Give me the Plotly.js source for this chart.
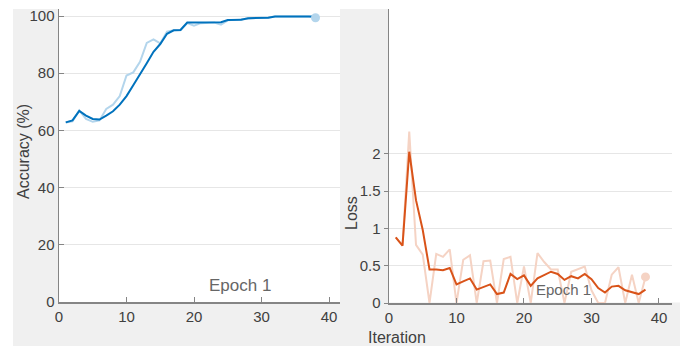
<!DOCTYPE html>
<html>
<head>
<meta charset="utf-8">
<script src="https://cdn.plot.ly/plotly-3.0.1.min.js"></script>
<style>html,body{margin:0;padding:0;background:#ffffff;}#chart{width:680px;height:346px;}</style>
</head>
<body>
<div id="chart"></div>
<script>
const iterations = [1,2,3,4,5,6,7,8,9,10,11,12,13,14,15,16,17,18,19,20,21,22,23,24,25,26,27,28,29,30,31,32,33,34,35,36,37,38];
const accuracySmoothed = [62.8,63.5,66.8,65.2,64.0,63.8,65.2,66.7,69.0,72.0,75.8,79.5,83.5,87.5,90.2,93.8,95.0,95.1,97.7,97.7,97.7,97.7,97.7,97.8,98.6,98.7,98.7,99.2,99.3,99.4,99.4,99.8,99.8,99.8,99.8,99.8,99.8,99.8];
const accuracyRaw = [62.8,63.2,67.0,64.0,63.0,63.5,67.5,69.0,72.0,79.2,80.3,84.0,90.6,91.8,90.4,94.5,95.0,95.0,97.5,96.6,97.5,97.7,97.7,97.0,98.5,98.7,98.9,99.2,99.4,99.5,99.5,99.8,99.8,99.8,99.8,99.8,99.8,99.4];
const lossSmoothed = [0.88,0.77,2.03,1.38,0.98,0.45,0.45,0.44,0.47,0.25,0.29,0.33,0.18,0.21,0.25,0.12,0.14,0.39,0.32,0.37,0.23,0.33,0.37,0.42,0.39,0.31,0.36,0.33,0.39,0.32,0.2,0.14,0.22,0.23,0.17,0.15,0.12,0.18];
const lossRaw = [0.88,0.77,2.30,0.78,0.65,0.0,0.66,0.62,0.72,0.0,0.58,0.64,0.0,0.56,0.57,0.0,0.59,0.62,0.0,0.49,0.0,0.67,0.55,0.45,0.45,0.0,0.42,0.45,0.49,0.17,0.0,0.0,0.38,0.48,0.0,0.38,0.0,0.35];
const accTicks = [0,20,40,60,80,100];
const xTicks = [0,10,20,30,40];
const lossTicks = [0,0.5,1,1.5,2];
const lossTickText = ['0','0.5','1','1.5','2'];
const lossUpperGrid = [2.55,3.09,3.48,3.87];
const epochLabel = 'Epoch 1';

const lastI = iterations.length - 1;
const blue = '#0072BD', lightBlue = '#b3d5ec', orange = '#D95319', lightOrange = '#f5d3c4';

const traces = [
  {x: iterations, y: accuracyRaw, xaxis:'x', yaxis:'y', mode:'lines', line:{color:lightBlue, width:2}},
  {x: iterations, y: accuracySmoothed, xaxis:'x', yaxis:'y', mode:'lines', line:{color:blue, width:2}},
  {x: [iterations[lastI]], y: [accuracyRaw[lastI]], xaxis:'x', yaxis:'y', mode:'markers', marker:{color:lightBlue, size:9}},
  {x: iterations, y: lossRaw, xaxis:'x2', yaxis:'y2', mode:'lines', line:{color:lightOrange, width:2}},
  {x: iterations, y: lossSmoothed, xaxis:'x2', yaxis:'y2', mode:'lines', line:{color:orange, width:2}},
  {x: [iterations[lastI]], y: [lossRaw[lastI]], xaxis:'x2', yaxis:'y2', mode:'markers', marker:{color:lightOrange, size:9}}
];

const W = 680, H = 346;
const gray = '#f0f0f0';
const axisGray = '#858585';
const fontFamily = 'Arial, Liberation Sans, sans-serif';
const tickFont = {family:fontFamily, size:15, color:'#404040'};
const axCommon = {
  showline:true, linecolor:axisGray, linewidth:1.5, ticks:'inside', ticklen:5, tickcolor:axisGray,
  zeroline:false, tickfont:tickFont, fixedrange:true
};
const px = v => v / W;
const py = v => (H - v) / H;

const layout = {
  width: W, height: H,
  margin:{l:0,r:0,t:0,b:0},
  paper_bgcolor:'#ffffff', plot_bgcolor:'#ffffff',
  showlegend:false,
  font:{family:fontFamily},
  xaxis: Object.assign({}, axCommon, {domain:[px(59), px(340)], range:[0, 41.63], tickvals:xTicks, showgrid:false, anchor:'y'}),
  yaxis: Object.assign({}, axCommon, {domain:[py(302), py(9)], range:[0, 102.45], tickvals:accTicks, showgrid:true, gridcolor:'#e6e6e6', anchor:'x'}),
  xaxis2: Object.assign({}, axCommon, {domain:[px(389), px(672)], range:[0, 41.93], tickvals:xTicks, showgrid:false, anchor:'y2'}),
  yaxis2: Object.assign({}, axCommon, {domain:[py(303), py(9)], range:[0, 3.946], tickmode:'array', tickvals:lossTicks, ticktext:lossTickText, ticks:'outside', ticklen:4, showgrid:true, gridcolor:'#e6e6e6', anchor:'x2'}),
  yaxis3: {overlaying:'y2', anchor:'x2', range:[0, 3.946], tickmode:'array', tickvals:lossUpperGrid, showticklabels:false, ticks:'', showline:false, zeroline:false, showgrid:true, gridcolor:'#e6e6e6', fixedrange:true},
  shapes: [
    {type:'rect', xref:'paper', yref:'paper', x0:px(13), x1:px(59), y0:0, y1:py(9), fillcolor:gray, line:{width:0}, layer:'below'},
    {type:'rect', xref:'paper', yref:'paper', x0:px(13), x1:1, y0:0, y1:py(302.5), fillcolor:gray, line:{width:0}, layer:'below'},
    {type:'rect', xref:'paper', yref:'paper', x0:px(340), x1:px(389), y0:0, y1:py(9), fillcolor:gray, line:{width:0}, layer:'below'}
  ],
  annotations: [
    {text:'Accuracy (%)', xref:'paper', yref:'paper', x:px(23), y:py(152), textangle:-90, showarrow:false, borderpad:0, font:{size:16, color:'#404040'}, xanchor:'center', yanchor:'middle'},
    {text:'Loss', xref:'paper', yref:'paper', x:px(352), y:py(213), textangle:-90, showarrow:false, borderpad:0, font:{size:16, color:'#404040'}, xanchor:'center', yanchor:'middle'},
    {text:'Iteration', xref:'paper', yref:'paper', x:px(397), y:py(337.5), showarrow:false, borderpad:0, font:{size:16, color:'#404040'}, xanchor:'center', yanchor:'middle'},
    {text:epochLabel, xref:'x', yref:'y', x:26.8, y:5.6, showarrow:false, font:{size:17, color:'#666'}, xanchor:'center', yanchor:'middle'},
    {text:epochLabel, xref:'x2', yref:'y2', x:25.9, y:0.175, showarrow:false, font:{size:15, color:'#666'}, xanchor:'center', yanchor:'middle'}
  ]
};

Plotly.newPlot('chart', traces, layout, {displayModeBar:false, staticPlot:true});
</script>
</body>
</html>
